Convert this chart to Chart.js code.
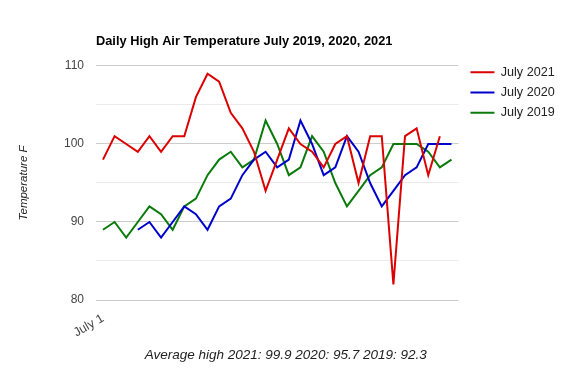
<!DOCTYPE html>
<html>
<head>
<meta charset="utf-8">
<script src="https://cdn.jsdelivr.net/npm/chart.js@4/dist/chart.umd.min.js"></script>
<style>
  html, body { margin: 0; padding: 0; background: #ffffff; }
  #wrap { width: 563px; height: 372px; }
</style>
</head>
<body>
<div id="wrap"><canvas id="c" width="563" height="372"></canvas></div>
<script>
// ---- data ----
const dayLabels = [1,2,3,4,5,6,7,8,9,10,11,12,13,14,15,16,17,18,19,20,21,22,23,24,25,26,27,28,29,30,31];
const seriesNames = ['July 2021', 'July 2020', 'July 2019'];
const july2021 = [98,101,100,99,101,99,101,101,106,109,108,104,102,99,94,98,102,100,99,97,100,101,95,101,101,82,101,102,96,101,null];
const july2020 = [null,null,null,89,90,88,90,92,91,89,92,93,96,98,99,97,98,103,100,96,97,101,99,95,92,94,96,97,100,100,100];
const july2019 = [89,90,88,90,92,91,89,92,93,96,98,99,97,98,103,100,96,97,101,99,95,92,94,96,97,100,100,100,99,97,98];
const yTickValues = [80, 90, 100, 110];
const xTickLabel = 'July 1';
const titleText = 'Daily High Air Temperature July 2019, 2020, 2021';
const yTitleText = 'Temperature F';
const noteText = 'Average high 2021: 99.9 2020: 95.7 2019: 92.3';

const FONT = "'Liberation Sans', Arial, sans-serif";

function toXY(arr) {
  return arr.map((v, i) => ({ x: i, y: v }));
}

const notePlugin = {
  id: 'bottomNote',
  afterDraw(chart) {
    const ctx = chart.ctx;
    const ca = chart.chartArea;
    ctx.save();
    ctx.font = 'italic 13.5px ' + FONT;
    ctx.fillStyle = '#222222';
    ctx.textAlign = 'center';
    ctx.textBaseline = 'middle';
    ctx.fillText(noteText, (ca.left + ca.right) / 2 + 8.5, 355);
    ctx.restore();
  }
};

const colors = ['#dc0000', '#0000cc', '#0a7a0a'];
const seriesData = [july2021, july2020, july2019];

new Chart(document.getElementById('c'), {
  type: 'line',
  data: {
    labels: dayLabels,
    datasets: seriesData.map((arr, k) => ({
      label: seriesNames[k],
      data: toXY(arr),
      borderColor: colors[k],
      backgroundColor: colors[k],
      borderWidth: 2,
      pointRadius: 0,
      pointHoverRadius: 0,
      tension: 0,
      spanGaps: false,
      fill: false,
      yAxisID: 'y'
    }))
  },
  options: {
    responsive: false,
    animation: false,
    events: [],
    layout: { padding: { top: 0, right: 7.7, bottom: 0, left: 0 } },
    plugins: {
      title: {
        display: true,
        text: titleText,
        align: 'start',
        fullSize: false,
        color: '#000000',
        font: { family: FONT, size: 12.8, weight: 'bold' },
        padding: { top: 33.5, bottom: 17.1 }
      },
      legend: {
        display: true,
        position: 'right',
        align: 'start',
        title: { display: true, text: ' ', font: { size: 1 }, padding: { top: 57, bottom: 0 } },
        labels: {
          usePointStyle: true,
          pointStyle: 'line',
          pointStyleWidth: 24,
          padding: 7.7,
          color: '#222222',
          font: { family: FONT, size: 12.6 }
        }
      },
      tooltip: { enabled: false }
    },
    scales: {
      x: {
        type: 'linear',
        min: -0.6,
        max: 30.6,
        grid: { display: false, drawTicks: false },
        border: { display: false },
        afterBuildTicks(scale) { scale.ticks = [{ value: 0 }]; },
        afterFit(scale) { scale.height = 72; },
        ticks: {
          autoSkip: false,
          minRotation: 30,
          maxRotation: 30,
          padding: 11,
          color: '#444444',
          font: { family: FONT, size: 12.5 },
          callback: (v) => (v === 0 ? xTickLabel : '')
        }
      },
      y: {
        type: 'linear',
        position: 'left',
        min: 80,
        max: 110,
        afterFit(scale) { scale.width = 96; },
        grid: {
          drawTicks: false,
          lineWidth: 1,
          color: (c) => (c.tick && yTickValues.includes(c.tick.value) ? '#cccccc' : '#ebebeb')
        },
        border: { display: false },
        ticks: {
          stepSize: 5,
          padding: 12,
          color: '#444444',
          font: { family: FONT, size: 12 },
          callback: (v) => (yTickValues.includes(v) ? String(v) : '')
        },
        title: {
          display: true,
          text: yTitleText,
          color: '#222222',
          font: { family: FONT, size: 11.5, style: 'italic' },
          padding: { top: 17, bottom: 0 }
        }
      },
      yRight: {
        type: 'linear',
        position: 'right',
        display: true,
        grid: { display: false, drawTicks: false },
        border: { display: false },
        ticks: { display: false },
        afterFit(scale) { scale.width = 4.3; }
      }
    }
  },
  plugins: [notePlugin]
});
</script>
</body>
</html>
